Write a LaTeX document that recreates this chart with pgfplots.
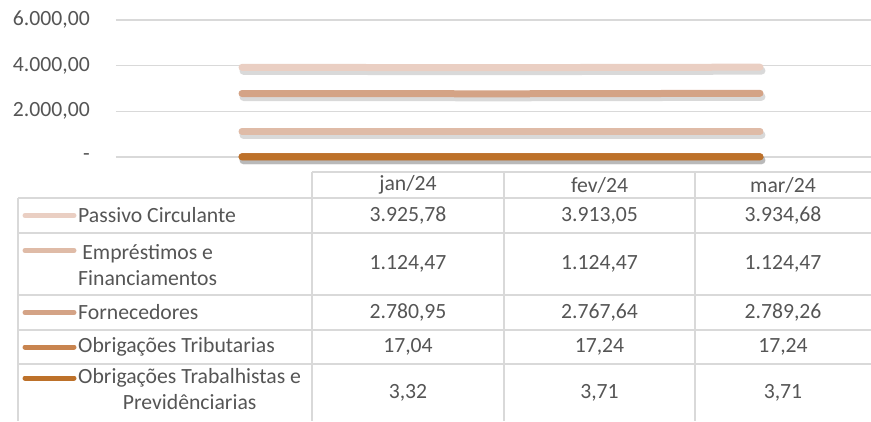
\documentclass[border=0pt]{standalone}
\usepackage{pgfplots}
\pgfplotsset{compat=1.18}
\usepackage{fontspec}
\setmainfont{Carlito}
\definecolor{cA}{HTML}{EACFC3}
\definecolor{cB}{HTML}{DFBBA7}
\definecolor{cC}{HTML}{D4A386}
\definecolor{cD}{HTML}{C8844F}
\definecolor{cE}{HTML}{BD712A}
\definecolor{txt}{HTML}{555555}
\definecolor{grid}{HTML}{D9D9D9}
\begin{document}
\begin{tikzpicture}[x=1pt,y=1pt]
\path[use as bounding box] (0,0) rectangle (871,421);
\begin{axis}[
  at={(116pt,264pt)}, anchor=south west,
  scale only axis, width=755pt, height=137pt,
  xmin=-0.4865, xmax=2.4286, ymin=0, ymax=6000,
  clip=false,
  axis line style={draw=none},
  xtick=\empty,
  ytick={0,2000,4000,6000},
  yticklabels={{-\hspace{10pt}},{2.000,00},{4.000,00},{6.000,00}},
  yticklabel style={font=\fontsize{21.7}{26}\selectfont, text=txt, inner sep=0pt, xshift=-26pt},
  major tick length=0pt,
  ymajorgrids,
  major grid style={draw=grid, line width=1.6pt},
  every axis plot/.append style={line width=7pt, line cap=round, mark=none,
    preaction={draw=black, opacity=0.15, line width=8pt, transform canvas={xshift=1.5pt, yshift=-3.5pt}}},
]
\addplot[cA] coordinates {(0,3925.78) (1,3913.05) (2,3934.68)};
\addplot[cB] coordinates {(0,1124.47) (1,1124.47) (2,1124.47)};
\addplot[cC] coordinates {(0,2780.95) (1,2767.64) (2,2789.26)};
\addplot[cD] coordinates {(0,17.04) (1,17.24) (2,17.24)};
\addplot[cE] coordinates {(0,3.32) (1,3.71) (2,3.71)};
\end{axis}
\begin{scope}[shift={(0,421)}, yscale=-1, font=\fontsize{21.7}{26}\selectfont, text=txt]
  \draw[grid, line width=1.6pt] (312,172) -- (871,172);
  \foreach \yy in {198,233,295,330,364} \draw[grid, line width=1.6pt] (18,\yy) -- (871,\yy);
  \draw[grid, line width=1.6pt] (18,198) -- (18,421);
  \foreach \xx in {312,504,695} \draw[grid, line width=1.6pt] (\xx,172) -- (\xx,421);
  % header
  \node at (408,185) {jan/24};
  \node at (599.5,185) {fev/24};
  \node at (783,185) {mar/24};
  % keys
  \draw[cA, line width=5pt, line cap=round] (25,215.5) -- (74,215.5);
  \draw[cB, line width=5pt, line cap=round] (25,250.5) -- (74,250.5);
  \draw[cC, line width=5pt, line cap=round] (25,312.5) -- (74,312.5);
  \draw[cD, line width=5pt, line cap=round] (25,347) -- (74,347);
  \draw[cE, line width=5pt, line cap=round] (25,378) -- (74,378);
  % labels
  \node[anchor=west, inner sep=0pt] at (78,215.5) {Passivo Circulante};
  \node[anchor=west, inner sep=0pt, align=center] at (78,265) { Empréstimos e\\Financiamentos};
  \node[anchor=west, inner sep=0pt] at (78,312.5) {Fornecedores};
  \node[anchor=west, inner sep=0pt] at (78,347) {Obrigações Tributarias};
  \node[anchor=west, inner sep=0pt, align=center] at (78,389) {Obrigações Trabalhistas e\\Previdênciarias};
  % values
  \foreach \yy/\a/\b/\c in {215.5/{3.925,78}/{3.913,05}/{3.934,68},
                           264/{1.124,47}/{1.124,47}/{1.124,47},
                           312.5/{2.780,95}/{2.767,64}/{2.789,26},
                           347/{17,04}/{17,24}/{17,24},
                           393/{3,32}/{3,71}/{3,71}} {
    \node at (408,\yy) {\a};
    \node at (599.5,\yy) {\b};
    \node at (783,\yy) {\c};
  }
\end{scope}
\end{tikzpicture}
\end{document}
